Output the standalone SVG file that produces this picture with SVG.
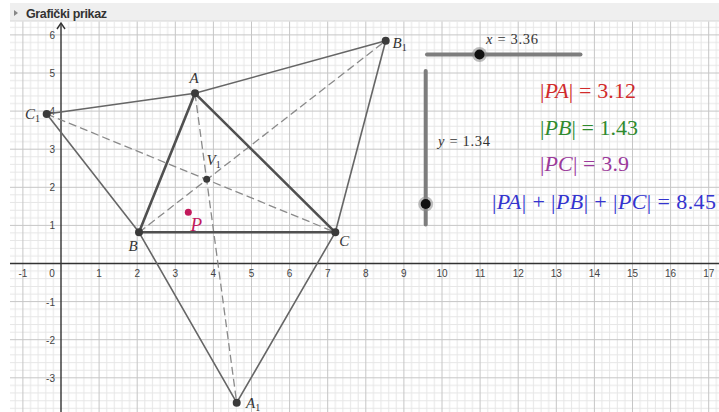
<svg xmlns="http://www.w3.org/2000/svg" width="719" height="412" viewBox="0 0 719 412">
<style>
.hdr{font-family:"Liberation Sans",Arial,sans-serif;font-weight:bold;font-size:12.5px;fill:#333}
.ax{font-family:"Liberation Sans",Arial,sans-serif;font-size:10px;fill:#444}
.axx{text-anchor:middle}
.axy{text-anchor:end}
.lbl{font-family:"Liberation Serif","Times New Roman",serif;font-style:italic;font-size:15px;fill:#333}
.sub{font-style:normal;font-size:10px}
.m{font-family:"Liberation Serif","Times New Roman",serif;font-size:22px}
.it{font-style:italic}
.sl{font-family:"Liberation Serif","Times New Roman",serif;font-size:14.5px;fill:#333}
.major{stroke:#c6c6c6;stroke-width:1;fill:none}
.axis{stroke:#333;stroke-width:1.4;fill:none}
.tri{stroke:#505050;stroke-width:2.6;fill:none;stroke-linejoin:round}
.thin{stroke:#666;stroke-width:1.6;fill:none}
.dash{stroke:#8a8a8a;stroke-width:1.3;fill:none;stroke-dasharray:8 4}
.pt{fill:#3a3a3a}
.slider{stroke:#7d7d7d;stroke-width:4;stroke-linecap:round;fill:none}
.halo{fill:#888;opacity:0.55}
.knob{fill:#111}
</style>
<defs>
<pattern id="minor" x="22.9" y="34.9" width="38.1" height="38.1" patternUnits="userSpaceOnUse">
<path d="M7.62 0V38.1M15.24 0V38.1M22.86 0V38.1M30.48 0V38.1M0 7.62H38.1M0 15.24H38.1M0 22.86H38.1M0 30.48H38.1" stroke="#e6e6e6" stroke-width="1" fill="none"/>
</pattern>
</defs>
<rect x="0" y="0" width="719" height="412" fill="#ffffff"/>
<g id="header">
<rect x="10" y="3" width="709" height="18" fill="#efefef"/>
<line x1="10" y1="21" x2="719" y2="21" stroke="#d6d6d6" stroke-width="1"/>
<polygon points="14,10 18,13 14,16" fill="#888"/>
<text class="hdr" x="26" y="18" textLength="81">Grafički prikaz</text>
</g>
<g id="grid">
<rect x="10" y="21.5" width="709" height="390.5" fill="url(#minor)"/>
<path class="major" d="M22.9 21.5V412M99.1 21.5V412M137.2 21.5V412M175.3 21.5V412M213.4 21.5V412M251.5 21.5V412M289.6 21.5V412M327.7 21.5V412M365.8 21.5V412M403.9 21.5V412M442 21.5V412M480.1 21.5V412M518.2 21.5V412M556.3 21.5V412M594.4 21.5V412M632.5 21.5V412M670.6 21.5V412M708.7 21.5V412M10 34.9H719M10 73H719M10 111.1H719M10 149.2H719M10 187.3H719M10 225.4H719M10 301.6H719M10 339.7H719M10 377.8H719"/>
</g>
<g id="axes">
<path class="axis" d="M10 263.5H719M61 412V23"/>
<path class="axis" d="M57 29L61 23L65 29"/>
<g class="ax axx">
<text x="22.9" y="277">-1</text>
<text x="52" y="277">0</text>
<text x="99.1" y="277">1</text>
<text x="137.2" y="277">2</text>
<text x="175.3" y="277">3</text>
<text x="213.4" y="277">4</text>
<text x="251.5" y="277">5</text>
<text x="289.6" y="277">6</text>
<text x="327.7" y="277">7</text>
<text x="365.8" y="277">8</text>
<text x="403.9" y="277">9</text>
<text x="442" y="277">10</text>
<text x="480.1" y="277">11</text>
<text x="518.2" y="277">12</text>
<text x="556.3" y="277">13</text>
<text x="594.4" y="277">14</text>
<text x="632.5" y="277">15</text>
<text x="670.6" y="277">16</text>
<text x="708.7" y="277">17</text>
</g>
<g class="ax axy">
<text x="55" y="39">6</text>
<text x="55" y="77">5</text>
<text x="55" y="115">4</text>
<text x="55" y="153">3</text>
<text x="55" y="191">2</text>
<text x="55" y="229">1</text>
<text x="55" y="306">-1</text>
<text x="55" y="344">-2</text>
<text x="55" y="382">-3</text>
</g>
</g>
<g id="connectors">
<path class="dash" d="M195 93.3L236.7 402.7"/>
<path class="dash" d="M139 232.3L385.7 40.7"/>
<path class="dash" d="M46.7 114L335.3 232.3"/>
<path class="thin" d="M46.7 114L195 93.3L385.7 40.7"/>
<path class="thin" d="M46.7 114L139 232.3"/>
<path class="thin" d="M385.7 40.7L335.3 232.3"/>
<path class="thin" d="M139 232.3L236.7 402.7L335.3 232.3"/>
<path class="tri" d="M195 93.3L139 232.3L335.3 232.3Z"/>
</g>
<g id="A"><circle class="pt" cx="195" cy="93.3" r="4"/><text class="lbl" x="194" y="82.5" text-anchor="middle">A</text></g>
<g id="B"><circle class="pt" cx="139" cy="232.3" r="4"/><text class="lbl" x="133" y="250.5" text-anchor="middle">B</text></g>
<g id="C"><circle class="pt" cx="335.3" cy="232.3" r="4"/><text class="lbl" x="344.3" y="246" text-anchor="middle">C</text></g>
<g id="A1"><circle class="pt" cx="236.7" cy="402.7" r="4"/><text class="lbl" x="246" y="408">A<tspan class="sub" dy="3">1</tspan></text></g>
<g id="B1"><circle class="pt" cx="385.7" cy="40.7" r="4"/><text class="lbl" x="392.5" y="48">B<tspan class="sub" dy="3">1</tspan></text></g>
<g id="C1"><circle class="pt" cx="46.7" cy="114" r="4"/><text class="lbl" x="25" y="119">C<tspan class="sub" dy="3">1</tspan></text></g>
<g id="V1"><circle class="pt" cx="206.7" cy="179.3" r="3.5"/><text class="lbl" x="206.5" y="164.5">V<tspan class="sub" dy="3">1</tspan></text></g>
<g id="P"><circle cx="188.3" cy="212.3" r="3.5" fill="#c2185b"/><text class="lbl" x="190.5" y="230.5" style="font-size:19px;fill:#c2185b">P</text></g>
<g id="sliderX">
<path class="slider" d="M427 54.5H580.5"/>
<circle class="halo" cx="479.5" cy="54.5" r="7.5"/>
<circle class="knob" cx="479.5" cy="54.5" r="5"/>
<text class="sl" x="486" y="44" textLength="52"><tspan class="it">x</tspan> = 3.36</text>
</g>
<g id="sliderY">
<path class="slider" d="M425.7 71V224.5"/>
<circle class="halo" cx="425.7" cy="204" r="7.5"/>
<circle class="knob" cx="425.7" cy="204" r="5"/>
<text class="sl" x="438" y="146" textLength="52"><tspan class="it">y</tspan> = 1.34</text>
</g>
<g id="texts">
<text class="m" x="540" y="98" textLength="96" fill="#d12b2b">|<tspan class="it">PA</tspan>| = 3.12</text>
<text class="m" x="540" y="134.5" textLength="98" fill="#2f8a2f">|<tspan class="it">PB</tspan>| = 1.43</text>
<text class="m" x="540" y="170.5" textLength="89" fill="#9b3a9b">|<tspan class="it">PC</tspan>| = 3.9</text>
<text class="m" x="492" y="209" textLength="224" fill="#3434cf">|<tspan class="it">PA</tspan>| + |<tspan class="it">PB</tspan>| + |<tspan class="it">PC</tspan>| = 8.45</text>
</g>
</svg>
